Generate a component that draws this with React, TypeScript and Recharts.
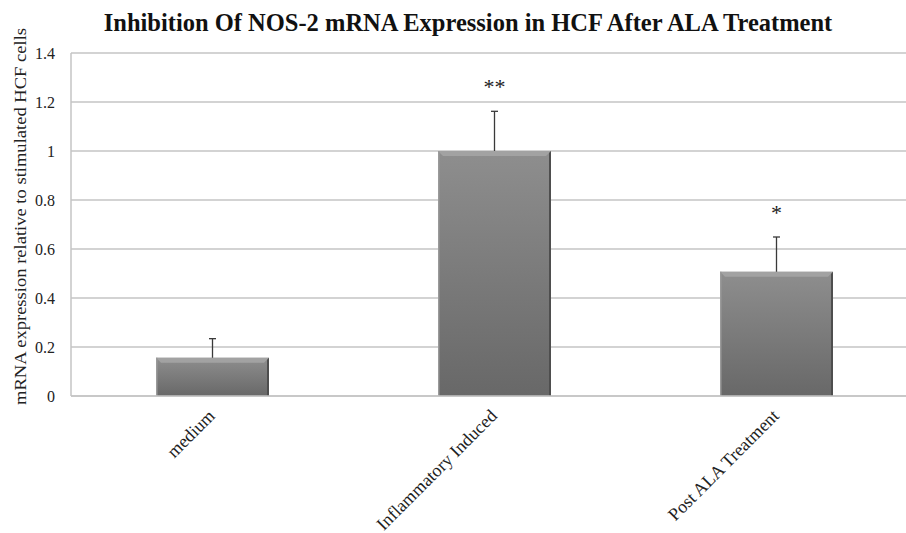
import React from "react";
import { Bar, BarChart, CartesianGrid, XAxis, YAxis } from "recharts";

const categories = ["medium", "Inflammatory Induced", "Post ALA Treatment"];
const expression = [0.156, 1.0, 0.507];
const stdError = [0.078, 0.162, 0.142];
const significance = ["", "**", "*"];
const yTicks = [0, 0.2, 0.4, 0.6, 0.8, 1, 1.2, 1.4];

const data = categories.map((name, i) => ({
  name,
  value: expression[i],
  err: stdError[i],
  sig: significance[i],
}));

const serif = '"Liberation Serif", "Times New Roman", serif';

// bevelled Excel-style bar with its upper whisker and significance stars
function BevelBar(props: any) {
  const { x, y, width, height, payload } = props;
  if (!height || height <= 0) return null;
  const b = 5;
  const cx = x + width / 2;
  const pxPerUnit = height / payload.value;
  const errTop = y - payload.err * pxPerUnit;
  return (
    <g>
      <rect x={x} y={y} width={width} height={height} fill="url(#barFill)" />
      <polygon
        points={`${x},${y} ${x + width},${y} ${x + width - b},${y + b} ${x + b},${y + b}`}
        fill="#a2a2a2"
      />
      <polygon
        points={`${x + width},${y} ${x + width},${y + height} ${x + width - 2},${y + height} ${x + width - 2},${y + 2}`}
        fill="#4e4e4e"
      />
      <rect x={x} y={y} width={1.5} height={height} fill="#9a9a9a" />
      <line x1={cx} y1={y} x2={cx} y2={errTop} stroke="#3a3a3a" strokeWidth={1.3} />
      <line x1={cx - 3.5} y1={errTop} x2={cx + 3.5} y2={errTop} stroke="#3a3a3a" strokeWidth={1.3} />
      {payload.sig ? (
        <text
          x={cx}
          y={errTop - 17}
          textAnchor="middle"
          fontFamily={serif}
          fontSize={22}
          fill="#222"
        >
          {payload.sig}
        </text>
      ) : null}
    </g>
  );
}

function CategoryTick(props: any) {
  const { x, y, payload } = props;
  const ax = x + 4;
  const ay = y + 13;
  return (
    <text
      x={ax}
      y={ay}
      textAnchor="end"
      fontFamily={serif}
      fontSize={18}
      fill="#222"
      transform={`rotate(-45, ${ax}, ${ay})`}
    >
      {payload.value}
    </text>
  );
}

function AxisTitle(props: any) {
  const { viewBox } = props;
  const cy = viewBox.y + viewBox.height / 2 - 8;
  return (
    <text
      x={20}
      y={cy}
      textAnchor="middle"
      dominantBaseline="central"
      fontFamily={serif}
      fontSize={17}
      fill="#222"
      textLength={377}
      lengthAdjust="spacingAndGlyphs"
      transform={`rotate(-90, 20, ${cy})`}
    >
      mRNA expression relative to stimulated HCF cells
    </text>
  );
}

export default function App() {
  return (
    <div
      style={{
        position: "absolute",
        left: 0,
        top: 0,
        width: 906,
        height: 533,
        overflow: "hidden",
        background: "#fff",
      }}
    >
      <svg
        width={906}
        height={40}
        style={{ position: "absolute", left: 0, top: 0 }}
      >
        <text
          x={468}
          y={31}
          textAnchor="middle"
          fontFamily={serif}
          fontWeight="bold"
          fontSize={24.5}
          fill="#111"
        >
          Inhibition Of NOS-2 mRNA Expression in HCF After ALA Treatment
        </text>
      </svg>
      <BarChart
        width={930}
        height={533}
        data={data}
        margin={{ top: 53, right: 13, bottom: 0, left: 0 }}
        style={{ position: "absolute", left: 0, top: 0 }}
      >
        <defs>
          <linearGradient id="barFill" x1="0" y1="0" x2="0" y2="1">
            <stop offset="0%" stopColor="#8e8e8e" />
            <stop offset="100%" stopColor="#686868" />
          </linearGradient>
        </defs>
        <CartesianGrid vertical={false} stroke="#c4c4c4" strokeWidth={1.5} />
        <XAxis
          dataKey="name"
          height={137}
          axisLine={{ stroke: "#c4c4c4", strokeWidth: 1.5 }}
          tickLine={false}
          interval={0}
          tick={<CategoryTick />}
        />
        <YAxis
          width={71}
          domain={[0, 1.4]}
          ticks={yTicks}
          axisLine={{ stroke: "#c4c4c4", strokeWidth: 1.5 }}
          tickLine={false}
          tick={{ fontFamily: serif, fontSize: 16, fill: "#222" }}
          tickMargin={10}
          label={<AxisTitle />}
        />
        <Bar
          dataKey="value"
          barSize={113}
          shape={<BevelBar />}
          isAnimationActive={false}
        />
      </BarChart>
    </div>
  );
}
